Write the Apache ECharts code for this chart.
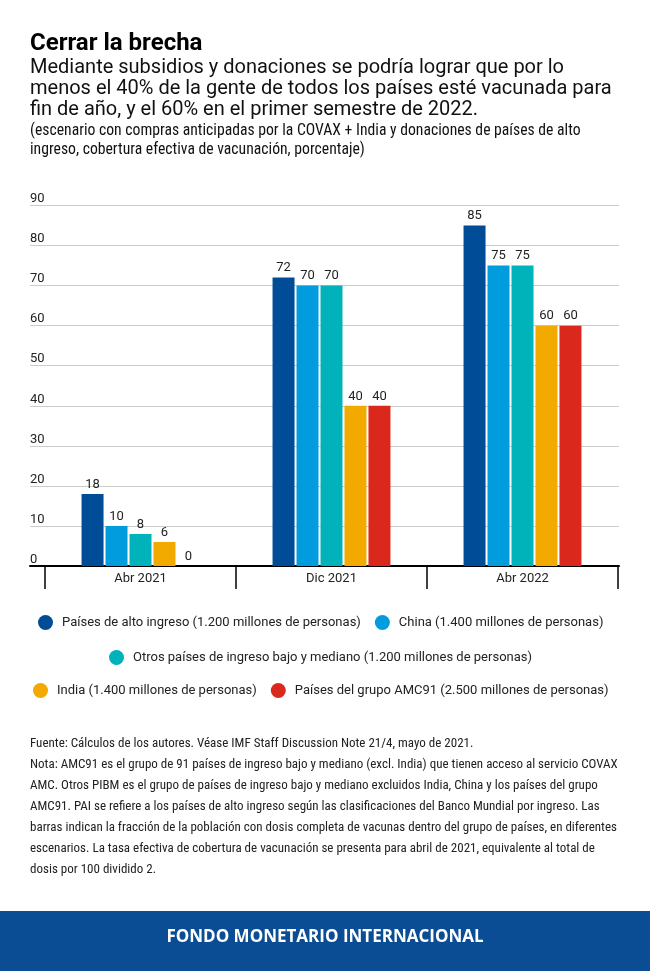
<!DOCTYPE html>
<html>
<head>
<meta charset="utf-8">
<script src="https://cdn.jsdelivr.net/npm/echarts@6/dist/echarts.min.js"></script>
<style>
  html, body { margin: 0; padding: 0; background: #fff; }
  #chart { width: 650px; height: 971px; }
</style>
</head>
<body>
<div id="chart"></div>
<script>
const categories = ['Abr 2021', 'Dic 2021', 'Abr 2022']
const seriesNames = [
  'Países de alto ingreso (1.200 millones de personas)',
  'China (1.400 millones de personas)',
  'Otros países de ingreso bajo y mediano (1.200 millones de personas)',
  'India (1.400 millones de personas)',
  'Países del grupo AMC91 (2.500 millones de personas)'
]
const altoIngreso = [18, 72, 85]
const china = [10, 70, 75]
const otrosPIBM = [8, 70, 75]
const india = [6, 40, 60]
const amc91 = [0, 40, 60]
const yTicks = { min: 0, max: 90, interval: 10 }

const colors = ['#004C97', '#009CDE', '#00B2B9', '#F2A900', '#DA291C']
const narrow = "'Roboto Condensed', 'Liberation Sans Narrow', 'Arial Narrow', Roboto, sans-serif"

const chart = echarts.init(document.getElementById('chart'))

const values = [altoIngreso, china, otrosPIBM, india, amc91]
const series = values.map((data, i) => ({
  name: seriesNames[i],
  type: 'bar',
  xAxisIndex: 1,
  yAxisIndex: 1,
  data: data,
  barWidth: 22,
  barGap: '9%',
  itemStyle: { color: colors[i] },
  label: {
    show: true,
    position: 'top',
    distance: 3,
    color: '#222',
    fontSize: 13,
    fontFamily: 'Roboto'
  }
}))

const notes = [
  'Fuente: Cálculos de los autores. Véase IMF Staff Discussion Note 21/4, mayo de 2021.',
  'Nota: AMC91 es el grupo de 91 países de ingreso bajo y mediano (excl. India) que tienen acceso al servicio COVAX',
  'AMC. Otros PIBM es el grupo de países de ingreso bajo y mediano excluidos India, China y los países del grupo',
  'AMC91. PAI se refiere a los países de alto ingreso según las clasificaciones del Banco Mundial por ingreso. Las',
  'barras indican la fracción de la población con dosis completa de vacunas dentro del grupo de países, en diferentes',
  'escenarios. La tasa efectiva de cobertura de vacunación se presenta para abril de 2021, equivalente al total de',
  'dosis por 100 dividido 2.'
]

const legendBase = {
  padding: 0,
  icon: 'circle',
  itemWidth: 15,
  itemHeight: 15,
  itemGap: 14,
  textStyle: { fontFamily: 'Roboto', fontSize: 13, color: '#222', padding: [0, 0, 0, 4] }
}

const option = {
  backgroundColor: '#fff',
  animation: false,
  color: colors,
  title: [
    {
      text: 'Cerrar la brecha',
      left: 30, top: 30, padding: 0,
      textStyle: { fontFamily: 'Roboto', fontWeight: 'bold', fontSize: 24, color: '#000', lineHeight: 28 }
    },
    {
      text: 'Mediante subsidios y donaciones se podría lograr que por lo\nmenos el 40% de la gente de todos los países esté vacunada para\nfin de año, y el 60% en el primer semestre de 2022.',
      left: 30, top: 57, padding: 0,
      textStyle: { fontFamily: 'Roboto', fontWeight: 'normal', fontSize: 20, color: '#111', lineHeight: 21 }
    },
    {
      text: '(escenario con compras anticipadas por la COVAX + India y donaciones de países de alto\ningreso, cobertura efectiva de vacunación, porcentaje)',
      left: 30, top: 121, padding: 0,
      textStyle: { fontFamily: narrow, fontWeight: 'normal', fontSize: 15.7, color: '#111', lineHeight: 19.5 }
    },
    {
      text: notes.join('\n'),
      left: 30, top: 733, padding: 0,
      textStyle: { fontFamily: narrow, fontWeight: 'normal', fontSize: 13, color: '#222', lineHeight: 21 }
    }
  ],
  legend: [
    Object.assign({}, legendBase, { left: 38, top: 615, data: [seriesNames[0], seriesNames[1]] }),
    Object.assign({}, legendBase, { left: 109, top: 650, data: [seriesNames[2]] }),
    Object.assign({}, legendBase, { left: 33, top: 683, data: [seriesNames[3], seriesNames[4]] })
  ],
  grid: [
    { left: 30, right: 31, top: 205.5, bottom: 405 },
    { left: 45, right: 32, top: 205.5, bottom: 405 }
  ],
  xAxis: [
    {
      type: 'value', gridIndex: 0, min: 0, max: 1,
      axisLine: { show: true, onZero: false, lineStyle: { color: '#000', width: 2 } },
      axisTick: { show: false },
      axisLabel: { show: false },
      splitLine: { show: false }
    },
    {
      type: 'category', gridIndex: 1, data: categories,
      axisLine: { show: false },
      axisTick: { show: true, length: 23, lineStyle: { color: '#000', width: 1.5 } },
      axisLabel: { interval: 0, margin: 6, fontFamily: 'Roboto', fontSize: 13, color: '#222' }
    }
  ],
  yAxis: [
    {
      type: 'value', gridIndex: 0,
      min: yTicks.min, max: yTicks.max, interval: yTicks.interval,
      axisLine: { show: false },
      axisTick: { show: false },
      axisLabel: {
        inside: true, margin: 0, align: 'left', verticalAlign: 'bottom',
        padding: [0, 0, 0, 0],
        fontFamily: 'Roboto', fontSize: 13, color: '#222'
      },
      splitLine: { lineStyle: { color: '#cccccc', width: 1 } }
    },
    {
      type: 'value', gridIndex: 1,
      min: yTicks.min, max: yTicks.max, interval: yTicks.interval,
      show: false
    }
  ],
  graphic: [
    {
      type: 'rect', left: 0, top: 911,
      shape: { width: 650, height: 60 },
      style: { fill: '#0A4D94' }
    },
    {
      type: 'text', left: 'center', top: 929,
      style: {
        text: 'FONDO MONETARIO INTERNACIONAL',
        fill: '#fff',
        font: "bold 17px 'Open Sans', Lato, sans-serif"
      }
    }
  ],
  series: series
}

chart.setOption(option)
</script>
</body>
</html>
